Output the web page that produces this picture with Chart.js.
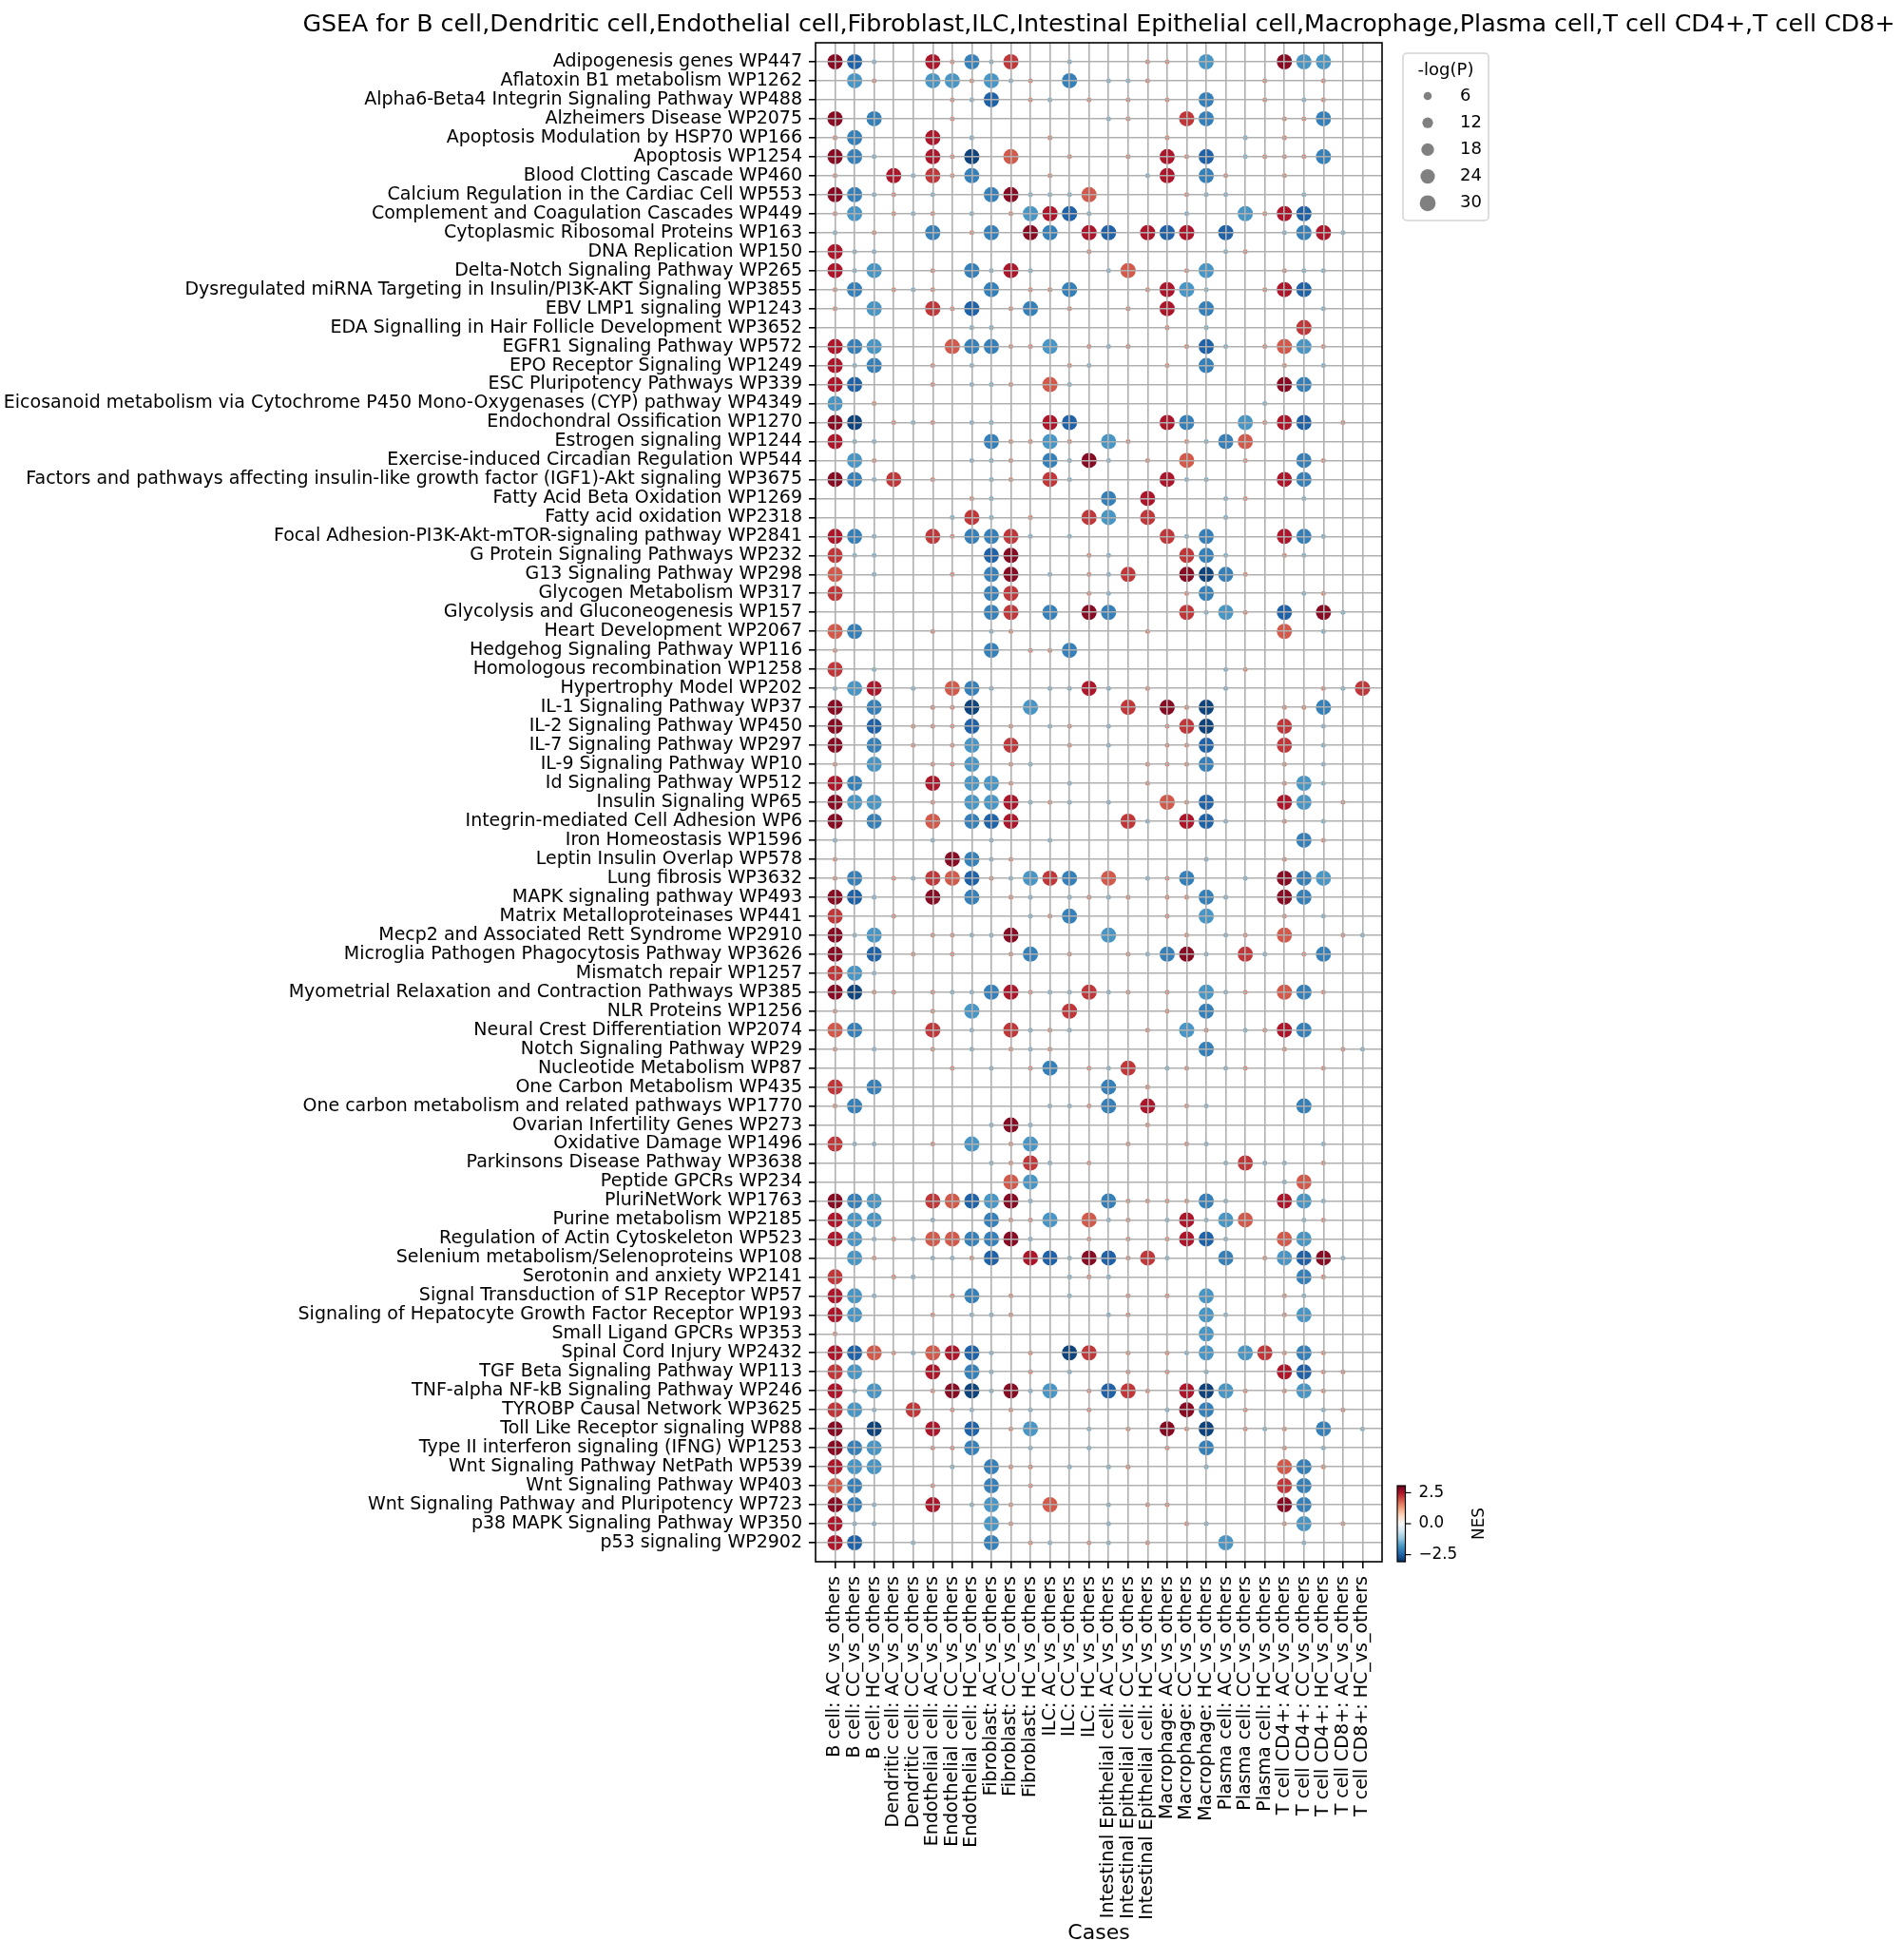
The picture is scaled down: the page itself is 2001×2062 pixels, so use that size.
<!DOCTYPE html>
<html>
<head>
<meta charset="utf-8">
<title>GSEA dot plot</title>
<script src="https://cdn.jsdelivr.net/npm/chart.js@4.4.1/dist/chart.umd.min.js"></script>
<style>
  html, body { margin: 0; padding: 0; background: #fff; }
  canvas { display: block; }
</style>
</head>
<body>
<canvas id="gsea" width="2001" height="2062"></canvas>
<script>
const cases = [
  'B cell: AC_vs_others', 'B cell: CC_vs_others', 'B cell: HC_vs_others',
  'Dendritic cell: AC_vs_others', 'Dendritic cell: CC_vs_others',
  'Endothelial cell: AC_vs_others', 'Endothelial cell: CC_vs_others', 'Endothelial cell: HC_vs_others',
  'Fibroblast: AC_vs_others', 'Fibroblast: CC_vs_others', 'Fibroblast: HC_vs_others',
  'ILC: AC_vs_others', 'ILC: CC_vs_others', 'ILC: HC_vs_others',
  'Intestinal Epithelial cell: AC_vs_others', 'Intestinal Epithelial cell: CC_vs_others', 'Intestinal Epithelial cell: HC_vs_others',
  'Macrophage: AC_vs_others', 'Macrophage: CC_vs_others', 'Macrophage: HC_vs_others',
  'Plasma cell: AC_vs_others', 'Plasma cell: CC_vs_others', 'Plasma cell: HC_vs_others',
  'T cell CD4+: AC_vs_others', 'T cell CD4+: CC_vs_others', 'T cell CD4+: HC_vs_others',
  'T cell CD8+: AC_vs_others', 'T cell CD8+: HC_vs_others'
];

const pathways = [
  'Adipogenesis genes WP447',
  'Aflatoxin B1 metabolism WP1262',
  'Alpha6-Beta4 Integrin Signaling Pathway WP488',
  'Alzheimers Disease WP2075',
  'Apoptosis Modulation by HSP70 WP166',
  'Apoptosis WP1254',
  'Blood Clotting Cascade WP460',
  'Calcium Regulation in the Cardiac Cell WP553',
  'Complement and Coagulation Cascades WP449',
  'Cytoplasmic Ribosomal Proteins WP163',
  'DNA Replication WP150',
  'Delta-Notch Signaling Pathway WP265',
  'Dysregulated miRNA Targeting in Insulin/PI3K-AKT Signaling WP3855',
  'EBV LMP1 signaling WP1243',
  'EDA Signalling in Hair Follicle Development WP3652',
  'EGFR1 Signaling Pathway WP572',
  'EPO Receptor Signaling WP1249',
  'ESC Pluripotency Pathways WP339',
  'Eicosanoid metabolism via Cytochrome P450 Mono-Oxygenases (CYP) pathway WP4349',
  'Endochondral Ossification WP1270',
  'Estrogen signaling WP1244',
  'Exercise-induced Circadian Regulation WP544',
  'Factors and pathways affecting insulin-like growth factor (IGF1)-Akt signaling WP3675',
  'Fatty Acid Beta Oxidation WP1269',
  'Fatty acid oxidation WP2318',
  'Focal Adhesion-PI3K-Akt-mTOR-signaling pathway WP2841',
  'G Protein Signaling Pathways WP232',
  'G13 Signaling Pathway WP298',
  'Glycogen Metabolism WP317',
  'Glycolysis and Gluconeogenesis WP157',
  'Heart Development WP2067',
  'Hedgehog Signaling Pathway WP116',
  'Homologous recombination WP1258',
  'Hypertrophy Model WP202',
  'IL-1 Signaling Pathway WP37',
  'IL-2 Signaling Pathway WP450',
  'IL-7 Signaling Pathway WP297',
  'IL-9 Signaling Pathway WP10',
  'Id Signaling Pathway WP512',
  'Insulin Signaling WP65',
  'Integrin-mediated Cell Adhesion WP6',
  'Iron Homeostasis WP1596',
  'Leptin Insulin Overlap WP578',
  'Lung fibrosis WP3632',
  'MAPK signaling pathway WP493',
  'Matrix Metalloproteinases WP441',
  'Mecp2 and Associated Rett Syndrome WP2910',
  'Microglia Pathogen Phagocytosis Pathway WP3626',
  'Mismatch repair WP1257',
  'Myometrial Relaxation and Contraction Pathways WP385',
  'NLR Proteins WP1256',
  'Neural Crest Differentiation WP2074',
  'Notch Signaling Pathway WP29',
  'Nucleotide Metabolism WP87',
  'One Carbon Metabolism WP435',
  'One carbon metabolism and related pathways WP1770',
  'Ovarian Infertility Genes WP273',
  'Oxidative Damage WP1496',
  'Parkinsons Disease Pathway WP3638',
  'Peptide GPCRs WP234',
  'PluriNetWork WP1763',
  'Purine metabolism WP2185',
  'Regulation of Actin Cytoskeleton WP523',
  'Selenium metabolism/Selenoproteins WP108',
  'Serotonin and anxiety WP2141',
  'Signal Transduction of S1P Receptor WP57',
  'Signaling of Hepatocyte Growth Factor Receptor WP193',
  'Small Ligand GPCRs WP353',
  'Spinal Cord Injury WP2432',
  'TGF Beta Signaling Pathway WP113',
  'TNF-alpha NF-kB Signaling Pathway WP246',
  'TYROBP Causal Network WP3625',
  'Toll Like Receptor signaling WP88',
  'Type II interferon signaling (IFNG) WP1253',
  'Wnt Signaling Pathway NetPath WP539',
  'Wnt Signaling Pathway WP403',
  'Wnt Signaling Pathway and Pluripotency WP723',
  'p38 MAPK Signaling Pathway WP350',
  'p53 signaling WP2902'
];

// one string per pathway, one letter per case, spaces only split the cell types
// '.' = not tested, letters are looked up in nesByCode / logpByCode below
const dots = [
  'Dyn .. Cpx nB. .n. ..p p.w ... Dww ..',
  '.wp .. wwp wnp .x. nnp ... ..p ..p ..',
  '... .. .pn y.p n.p .p. p.x ..p .np ..',
  'D.x .. .p. ... ... np. .Bx ... ppx ..',
  'px. .. C.n ... p.. ... p.. .n. p.. ..',
  'Dxn .. Cpz .A. .p. .p. Cpy .np ppx ..',
  'p.. Cn Bpx ... p.. ..n C.x p.. p.. ..',
  'Dxn p. n.. xDn nnA ... .pn n.. .n. ..',
  'pw. pn p.n .pw Cyn ... .n. .wp Cy. ..',
  'n.p .. x.p x.D x.C y.C yC. y.. nxC n.',
  'Cnn .. ... ... ..p ... ... np. ... ..',
  'Cnw .. p.x nCn ... nA. .pw ... pnn ..',
  'px. pn p.. x.p px. ..p Cwn ..p Cy. ..',
  'p.w .. Bpy .px .p. .p. C.x ... ..n ..',
  '... .. ..n n.. ... ... p.n ... .B. ..',
  'Cxw .. .Ax xpp w.p np. .py n.p Awp ..',
  'Cnx .. p.n ... .pn ... p.x ... p.n ..',
  'Cy. .. p.n np. An. ... ... ... Dx. ..',
  'w.p .. ... ... ... ... ... ..n ... ..',
  'Dz. pn p.n n.. Cy. ... Cx. .wp Cy. p.',
  'Cnn .. ... xpp wp. wp. .pn xA. ... ..',
  '.wp .. ..n np. xnD n.p .A. .p. .xp ..',
  'Dxn B. p.. np. Bn. ... Cnn ... Cx. ..',
  '... .. ..p n.. ... x.C ... np. .n. ..',
  '... .. .nB n.p ..B w.B ... n.. ... ..',
  'Cxn .. Bpx xBn .n. ... Bnx ... Cxn ..',
  'Bnn .. ... yD. ..p n.. .Bx n.. pn. ..',
  'A.n .. .p. xD. n.p nB. .Dz xp. ... ..',
  'B.. .. ... xB. ..p n.. .px ... .np ..',
  '... .. ... xB. x.D x.. .Bn wp. y.D n.',
  'Ax. .. p.. np. ... ..p ... ... A.n ..',
  'p.. .. ... x.p px. ... ... ... ... ..',
  'B.n .. ... ... ... ... ... np. ... ..',
  'nwC .n .Ax n.. nnC n.p ... n.. ..p nB',
  'D.x .. ppz ..w ... .B. Dpz ... ppx ..',
  'D.y .p ppy .p. np. n.. pBz ... B.n ..',
  'D.x .p .pw .B. .p. n.. ppy ... B.n ..',
  'p.w .. ppw .pn ... ..p ppx ... p.n ..',
  'Cx. .. C.w wp. .n. ..p ... ... pwn ..',
  'Dww .. p.w wCn pn. n.. Apy ... Cw. p.',
  'D.x .. A.x yC. ... .Bn .Cy n.. p.n ..',
  'n.. .. n.. n.. n.. ... ... ... .xp ..',
  'p.. .. .Dx np. ... ... ..n ... p.. ..',
  'px. pn BAy pnw Bx. A.n px. .n. Dxw ..',
  'Dyn .. D.x .pn .np np. ppx n.. Dx. ..',
  'B.. p. ... ..n px. ... p.w ... p.n ..',
  'Dnw .. ppn nD. ... w.. .p. np. A.. pn',
  'D.y .p .p. .px .p. .pn xDn .Bn .px ..',
  'Bwn .. ... ... ... ... ... ... ... ..',
  'Dzp p. pnn xCp nnB np. p.w np. Axp ..',
  'p.. .. p.w ... .B. ... p.x ... ... ..',
  'Ax. .. B.n .Bn pn. ..p .wp .np Cx. ..',
  'p.n .. p.n .pn p.. ... ..x ... p.. pn',
  '... .. .p. n.p x.p nB. np. np. ..p ..',
  'B.x .. ... ... ... x.p ... ... ... ..',
  'px. .. ... ... nnp x.C .pn ... .x. ..',
  '... .. ... nDn ... ..p ... ... ... ..',
  'Bnn .. p.w .pw ... .p. .pn ... ..n ..',
  '... .. ... npB n.p ... ... nBn n.p ..',
  '... .. ... .Aw ... ... ... ... nA. ..',
  'Dxw .. BAy wDn ... xpp ppx n.. Cwn ..',
  'Cww .. n.. xpp w.A np. nCn wA. .np ..',
  'Cwn pn AAx xDn ..p .p. pCy n.. Aw. ..',
  '.wp .. nnp y.C ynD ypB n.. x.p wyD n.',
  'B.. pn ... ... .np n.. ... ... .xp ..',
  'Cwn .. .px .p. .n. .p. p.w ... pn. ..',
  'Cw. .. p.n np. ... np. ..w n.. pw. ..',
  'p.. .. ... ... ... ... ..w ... ... ..',
  'CyA pn ACy n.p .zB .p. pnw .wB pxp ..',
  'Bw. .. C.x n.p .n. .p. p.n ... Cyp p.',
  'Cnw .. pDz nDn w.p yBp .Cz wp. pwp ..',
  'Bwn .B .pn .pn ..p ... nDx .p. ..n p.',
  'D.z .. C.y .pw ..n .p. Dpz .pn p.x .n',
  'Dxw .. ppx ..n ..n ... p.x ... p.n ..',
  'Cww .. .n. xpp .n. np. ..n ... Axp ..',
  'Ax. .. p.. x.p ... ... ... ... Bx. ..',
  'Dxn .. C.n wp. A.. n.p p.. ... Dx. ..',
  'Cnn .. ... wp. ... n.. .pn ... pw. p.',
  'Cy. .n ... x.p n.p n.p ... w.. .n. ..'
];

const nesByCode = { D: 2.8, C: 2.5, B: 2.2, A: 1.9, p: 1.6, n: -1.5, w: -1.8, x: -2.1, y: -2.5, z: -2.85 };
const logpByCode = { D: 27, C: 27, B: 27, A: 27, p: 0.4, n: 0.4, w: 27, x: 27, y: 27, z: 27 };

const sizeTicks = [6, 12, 18, 24, 30];
const nesTicks = [2.5, 0.0, -2.5];
const nesLimit = 3.07;

// matplotlib RdBu_r
const rdbu = ['#053061', '#2166ac', '#4393c3', '#92c5de', '#d1e5f0', '#f7f7f7',
              '#fddbc7', '#f4a582', '#d6604d', '#b2182b', '#67001f'];

function hexRgb(h) {
  return [1, 3, 5].map(i => parseInt(h.slice(i, i + 2), 16));
}

function nesColor(v) {
  let t = (v + nesLimit) / (2 * nesLimit);
  t = Math.min(1, Math.max(0, t)) * 10;
  const i = Math.min(9, Math.floor(t));
  const f = t - i;
  const a = hexRgb(rdbu[i]);
  const b = hexRgb(rdbu[i + 1]);
  const c = a.map((v, k) => Math.round(v + (b[k] - v) * f));
  return `rgb(${c[0]},${c[1]},${c[2]})`;
}

// marker area grows linearly with -log(P)
function dotRadius(lp) {
  return Math.sqrt(2.17 * (lp + 2.5));
}

const points = [];
dots.forEach((row, r) => {
  row.replace(/ /g, '').split('').forEach((code, c) => {
    if (code === '.') return;
    points.push({ x: c, y: r, nes: nesByCode[code], logp: logpByCode[code] });
  });
});
points.sort((a, b) => a.logp - b.logp);

const FONT = 'DejaVu Sans';
Chart.defaults.font.family = FONT;
Chart.defaults.color = '#000';

// all four spines, drawn last so they sit over the grid
const framePlugin = {
  id: 'frame',
  afterDraw(chart) {
    const { ctx, chartArea: a } = chart;
    ctx.save();
    ctx.strokeStyle = '#000';
    ctx.lineWidth = 1.6;
    ctx.strokeRect(a.left, a.top, a.right - a.left, a.bottom - a.top);
    ctx.restore();
  }
};

const titlePlugin = {
  id: 'topTitle',
  afterDraw(chart) {
    const { ctx, chartArea: a } = chart;
    ctx.save();
    ctx.fillStyle = '#000';
    ctx.font = `25.3px "${FONT}"`;
    ctx.textAlign = 'center';
    ctx.textBaseline = 'alphabetic';
    ctx.fillText('GSEA for B cell,Dendritic cell,Endothelial cell,Fibroblast,ILC,Intestinal Epithelial cell,Macrophage,Plasma cell,T cell CD4+,T cell CD8+',
      (a.left + a.right) / 2, 33);
    ctx.restore();
  }
};

const sizeLegend = {
  id: 'sizeLegend',
  afterDraw(chart) {
    const { ctx, chartArea: a } = chart;
    const x0 = a.right + 22, y0 = 56, w = 90, h = 176;
    ctx.save();
    ctx.strokeStyle = '#d4d4d4';
    ctx.lineWidth = 1.5;
    ctx.beginPath();
    ctx.roundRect(x0, y0, w, h, 4);
    ctx.stroke();
    ctx.fillStyle = '#000';
    ctx.font = `18px "${FONT}"`;
    ctx.textBaseline = 'middle';
    ctx.textAlign = 'center';
    ctx.fillText('-log(P)', x0 + 45, y0 + 18);
    sizeTicks.forEach((s, i) => {
      const y = y0 + 45 + i * 28.2;
      ctx.fillStyle = '#808080';
      ctx.beginPath();
      ctx.arc(x0 + 26, y, dotRadius(s), 0, Math.PI * 2);
      ctx.fill();
      ctx.fillStyle = '#000';
      ctx.textAlign = 'left';
      ctx.fillText(String(s), x0 + 60, y);
    });
    ctx.restore();
  }
};

const colorBar = {
  id: 'colorBar',
  afterDraw(chart) {
    const { ctx, chartArea: a } = chart;
    const x0 = a.right + 16, w = 8.5, top = 1563, bottom = a.bottom;
    const toY = v => top + (nesLimit - v) / (2 * nesLimit) * (bottom - top);
    ctx.save();
    for (let y = top; y < bottom; y++) {
      const v = nesLimit - (y + 0.5 - top) / (bottom - top) * 2 * nesLimit;
      ctx.fillStyle = nesColor(v);
      ctx.fillRect(x0, y, w, 1);
    }
    ctx.strokeStyle = '#000';
    ctx.lineWidth = 1.2;
    ctx.strokeRect(x0, top, w, bottom - top);
    ctx.font = `16.8px "${FONT}"`;
    ctx.fillStyle = '#000';
    ctx.textBaseline = 'middle';
    ctx.textAlign = 'left';
    nesTicks.forEach(v => {
      const y = toY(v);
      ctx.beginPath();
      ctx.moveTo(x0 + w, y);
      ctx.lineTo(x0 + w + 6, y);
      ctx.stroke();
      const label = (v < 0 ? '\u2212' : '') + Math.abs(v).toFixed(1);
      ctx.fillText(label, x0 + w + 14, y);
    });
    ctx.translate(x0 + 87, (top + bottom) / 2);
    ctx.rotate(-Math.PI / 2);
    ctx.textAlign = 'center';
    ctx.fillText('NES', 0, 0);
    ctx.restore();
  }
};

// grid on top of the dots, like the matplotlib original
const gridStyle = {
  z: 1,
  color: '#b0b0b0',
  lineWidth: 1.6,
  tickColor: '#000',
  tickLength: 7,
  tickWidth: 1.6
};

new Chart(document.getElementById('gsea'), {
  type: 'scatter',
  data: {
    datasets: [{
      data: points,
      pointRadius: ctx => dotRadius(ctx.raw.logp),
      pointHoverRadius: ctx => dotRadius(ctx.raw.logp),
      pointBackgroundColor: ctx => nesColor(ctx.raw.nes),
      pointBorderWidth: 0
    }]
  },
  options: {
    responsive: false,
    animation: false,
    events: [],
    devicePixelRatio: 1,
    layout: { padding: { top: 45, right: 547, bottom: 0, left: 0 }, autoPadding: false },
    plugins: {
      legend: { display: false },
      tooltip: { enabled: false }
    },
    scales: {
      x: {
        type: 'linear',
        min: -1,
        max: cases.length,
        afterBuildTicks: s => { s.ticks = cases.map((_, i) => ({ value: i })); },
        afterFit: s => { s.height = 419; },
        ticks: {
          autoSkip: false,
          minRotation: 90,
          maxRotation: 90,
          padding: 8,
          color: '#000',
          font: { size: 19 },
          callback: v => cases[v]
        },
        grid: gridStyle,
        border: { display: false },
        title: {
          display: true,
          text: 'Cases',
          color: '#000',
          font: { size: 22 },
          padding: { top: 4, bottom: 15 }
        }
      },
      y: {
        type: 'linear',
        min: -1,
        max: pathways.length,
        reverse: true,
        afterBuildTicks: s => { s.ticks = pathways.map((_, i) => ({ value: i })); },
        afterFit: s => { s.width = 858; },
        ticks: {
          autoSkip: false,
          padding: 7,
          color: '#000',
          font: { size: 19 },
          callback: v => pathways[v]
        },
        grid: gridStyle,
        border: { display: false }
      }
    }
  },
  plugins: [framePlugin, titlePlugin, sizeLegend, colorBar]
});
</script>
</body>
</html>
